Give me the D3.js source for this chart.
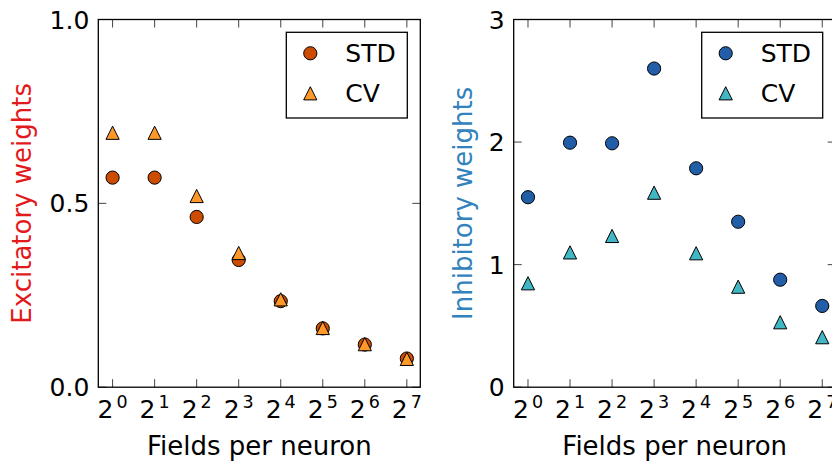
<!DOCTYPE html>
<html>
<head>
<meta charset="utf-8">
<script src="https://cdn.jsdelivr.net/npm/d3@7"></script>
<style>
  body { margin: 0; background: #fff; }
  text { font-family: "DejaVu Sans", sans-serif; }
</style>
</head>
<body>
<div id="chart"></div>
<script>
// fields per neuron, as powers of two
var exps = [0, 1, 2, 3, 4, 5, 6, 7];
var fields = exps.map(function (e) { return Math.pow(2, e); });

var excStd = [0.570, 0.570, 0.463, 0.346, 0.234, 0.160, 0.116, 0.078];
var excCv  = [0.692, 0.692, 0.520, 0.365, 0.239, 0.161, 0.117, 0.077];
var inhStd = [1.55, 1.995, 1.99, 2.60, 1.786, 1.35, 0.877, 0.663];
var inhCv  = [0.848, 1.10, 1.234, 1.587, 1.093, 0.82, 0.53, 0.408];

var excTicks = [0.0, 0.5, 1.0];
var inhTicks = [0, 1, 2, 3];

var panels = [
  { left: 98.3, right: 420.3, ymax: 1.0, ticks: excTicks, fmt: d3.format(".1f"),
    std: excStd, cv: excCv, stdCol: "#cc4c02", cvCol: "#fe9929",
    label: "Excitatory weights", labelCol: "#e31a1c", labelX: 22 },
  { left: 513.7, right: 835.7, ymax: 3, ticks: inhTicks, fmt: d3.format("d"),
    std: inhStd, cv: inhCv, stdCol: "#225ea8", cvCol: "#41b6c4",
    label: "Inhibitory weights", labelCol: "#3182bd", labelX: 463 }
];

var W = 832, H = 463, plotTop = 19.5, plotBottom = 387.2;
var svg = d3.select("#chart").append("svg").attr("width", W).attr("height", H);

function tri(x, y, a) {
  return "M" + x + "," + (y - a) + "L" + (x + a) + "," + (y + a) + "L" + (x - a) + "," + (y + a) + "Z";
}

panels.forEach(function (p) {
  var x = d3.scaleLog().base(2).domain([Math.pow(2, -0.34), Math.pow(2, 7.32)]).range([p.left, p.right]);
  var y = d3.scaleLinear().domain([0, p.ymax]).range([plotBottom, plotTop]);
  var g = svg.append("g");

  // ticks, inside, on all four sides
  fields.forEach(function (f) {
    g.append("line").attr("x1", x(f)).attr("x2", x(f)).attr("y1", plotBottom).attr("y2", plotBottom - 8)
      .attr("stroke", "#444").attr("stroke-width", 1);
    g.append("line").attr("x1", x(f)).attr("x2", x(f)).attr("y1", plotTop).attr("y2", plotTop + 8)
      .attr("stroke", "#444").attr("stroke-width", 1);
    var t = g.append("text").attr("x", x(f)).attr("y", 418).attr("text-anchor", "middle")
      .attr("font-size", 25).attr("fill", "#000");
    t.append("tspan").text("2");
    t.append("tspan").attr("font-size", 17.5).attr("dx", 3).attr("dy", -10).text(Math.log2(f));
  });
  p.ticks.forEach(function (v) {
    g.append("line").attr("x1", p.left).attr("x2", p.left + 8).attr("y1", y(v)).attr("y2", y(v))
      .attr("stroke", "#444").attr("stroke-width", 1);
    g.append("line").attr("x1", p.right).attr("x2", p.right - 8).attr("y1", y(v)).attr("y2", y(v))
      .attr("stroke", "#444").attr("stroke-width", 1);
    g.append("text").attr("x", p.left - 9).attr("y", y(v)).attr("dy", "0.36em")
      .attr("text-anchor", "end").attr("font-size", 25).attr("fill", "#000").text(p.fmt(v));
  });

  g.append("rect").attr("x", p.left).attr("y", plotTop).attr("width", p.right - p.left)
    .attr("height", plotBottom - plotTop).attr("fill", "none").attr("stroke", "#000").attr("stroke-width", 1.3);

  // markers
  g.selectAll("circle.std").data(p.std).enter().append("circle")
    .attr("cx", function (d, i) { return x(fields[i]); })
    .attr("cy", function (d) { return y(d); })
    .attr("r", 6.6).attr("fill", p.stdCol).attr("stroke", "#000").attr("stroke-width", 1);
  g.selectAll("path.cv").data(p.cv).enter().append("path")
    .attr("d", function (d, i) { return tri(x(fields[i]), y(d), 6.6); })
    .attr("fill", p.cvCol).attr("stroke", "#000").attr("stroke-width", 1);

  // legend
  var lx = p.right - 134, ly = plotTop + 12.8;
  g.append("rect").attr("x", lx).attr("y", ly).attr("width", 121).attr("height", 85.7)
    .attr("fill", "#fff").attr("stroke", "#000").attr("stroke-width", 1.3);
  g.append("circle").attr("cx", lx + 24).attr("cy", ly + 21).attr("r", 6.6)
    .attr("fill", p.stdCol).attr("stroke", "#000").attr("stroke-width", 1);
  g.append("path").attr("d", tri(lx + 24, ly + 61, 6.6))
    .attr("fill", p.cvCol).attr("stroke", "#000").attr("stroke-width", 1);
  g.append("text").attr("x", lx + 59).attr("y", ly + 21).attr("dy", "0.36em")
    .attr("font-size", 25).text("STD");
  g.append("text").attr("x", lx + 59).attr("y", ly + 61).attr("dy", "0.36em")
    .attr("font-size", 25).text("CV");

  // axis labels
  g.append("text").attr("x", (p.left + p.right) / 2).attr("y", 455).attr("text-anchor", "middle")
    .attr("font-size", 26).text("Fields per neuron");
  g.append("text").attr("transform", "translate(" + p.labelX + "," + ((plotTop + plotBottom) / 2) + ") rotate(-90)")
    .attr("text-anchor", "middle").attr("dy", "0.36em").attr("font-size", 26)
    .attr("fill", p.labelCol).text(p.label);
});
</script>
</body>
</html>
